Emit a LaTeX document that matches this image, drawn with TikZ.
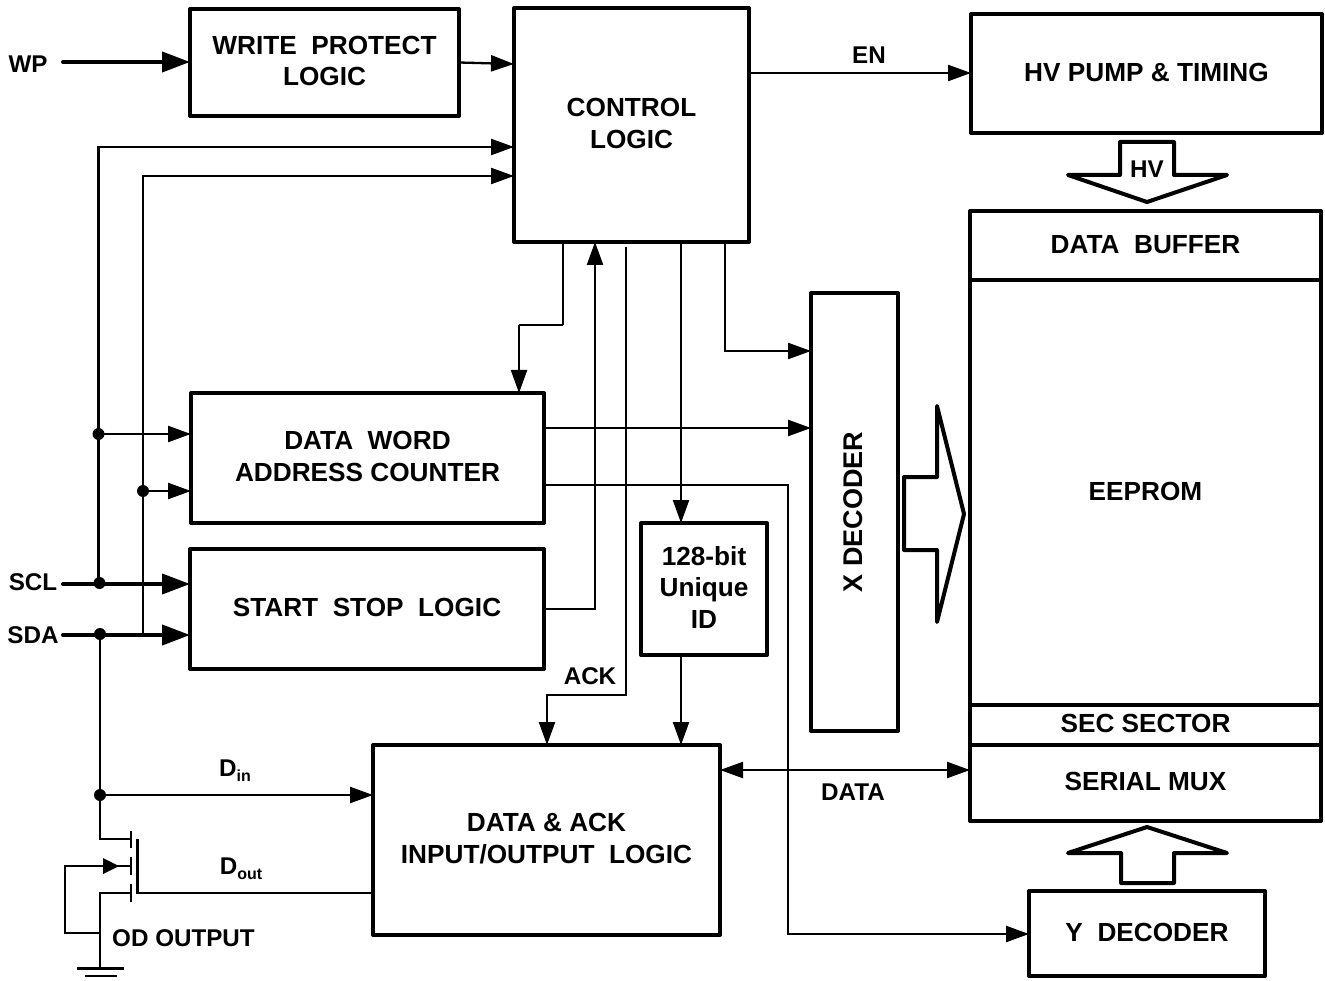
\documentclass[tikz,border=0pt]{standalone}
\usepackage{fontspec}
\setmainfont{Liberation Sans}[BoldFont={Liberation Sans Bold}]
\usetikzlibrary{arrows.meta}
\newcommand{\lbl}{\bfseries\fontsize{26.2}{31.5}\selectfont}
\newcommand{\lbs}{\bfseries\fontsize{24.2}{29}\selectfont}
\newcommand{\sbs}[1]{\raisebox{-5pt}{\fontsize{16}{16}\selectfont #1}}
\newcommand{\blk}[6]{\node[blockbox,minimum width={(#4-#2)*1pt},minimum height={(#5-#3)*1pt}] (#1) at ({(#2+#4)/2},{(#3+#5)/2}) {#6\rule[-3pt]{0pt}{1pt}};}
\tikzset{
  blockbox/.style={draw,line width=4pt,inner sep=0pt,outer sep=0pt,align=center,font=\lbl,line join=round,fill=white},
  txt/.style={inner sep=0pt,font=\lbs,align=center},
  wire/.style={line width=2.3pt,line join=miter},
  wirein/.style={wire,-{Triangle[length=23pt,width=16pt]}},
  wirebi/.style={wire,{Triangle[length=23pt,width=16pt]}-{Triangle[length=23pt,width=16pt]}},
  busin/.style={line width=4pt,line cap=round,-{Triangle[length=28pt,width=20pt]}},
  hollow/.style={draw,line width=4pt,line join=round,fill=white},
  junction/.style={circle,fill=black,inner sep=0pt,minimum size=12pt},
}
\begin{document}
\begin{tikzpicture}[x=1pt,y=-1pt]
\useasboundingbox (0,0) rectangle (1325,981);
% hollow bus arrows
\draw[hollow] (1120,142) -- (1174,142) -- (1174,175) -- (1227,175) -- (1147,202) -- (1068,175) -- (1120,175) -- cycle;
\draw[hollow] (904,477) -- (937,477) -- (937,406) -- (964,514) -- (937,622) -- (937,550) -- (904,550) -- cycle;
\draw[hollow] (1121,883) -- (1174,883) -- (1174,853) -- (1227,853) -- (1147,827) -- (1068,853) -- (1121,853) -- cycle;
% blocks
\blk{wpl}{190}{9}{459}{116}{WRITE\ \ PROTECT\\LOGIC}
\blk{ctrl}{514}{8}{749}{242}{CONTROL\\LOGIC}
\blk{hv}{971}{14}{1322}{133}{HV PUMP \& TIMING}
\blk{buf}{970}{211}{1321}{280}{DATA\ \ BUFFER}
\blk{ee}{970}{280}{1321}{705}{EEPROM}
\blk{sec}{970}{705}{1321}{745}{SEC SECTOR}
\blk{mux}{970}{745}{1321}{821}{SERIAL MUX}
\node[blockbox,rotate=90,minimum width=438pt,minimum height=87pt,font=\bfseries\fontsize{27}{32}\selectfont] (xd) at (854.5,512) {X DECODER\rule[-3pt]{0pt}{1pt}};
\blk{dwa}{191}{393}{544}{523}{DATA\ \ WORD\\ADDRESS COUNTER}
\blk{ssl}{190}{549}{544}{669}{START\ \ STOP\ \ LOGIC}
\blk{uid}{641}{523}{767}{655}{128-bit\\Unique\\ID}
\blk{dio}{373}{745}{720}{935}{DATA \& ACK\\INPUT/OUTPUT\ \ LOGIC}
\blk{yd}{1029}{891}{1265}{976}{Y\ \ DECODER}
% free labels
\node[txt] (lwp) at (28,64) {WP};
\node[txt] (lscl) at (33,582) {SCL};
\node[txt] (lsda) at (33,635) {SDA};
\node[txt] (len) at (869,55) {EN};
\node[txt] (lhv) at (1147,169) {HV};
\node[txt] (lack) at (590,676) {ACK};
\node[txt] (ldata) at (853,792) {DATA};
\node[txt] (ldin) at (235,771) {D\sbs{in}};
\node[txt] (ldout) at (241,869) {D\sbs{out}};
\node[txt] (lod) at (183.5,938) {OD OUTPUT};
% junctions and free ends
\node[junction] (j1) at (98.5,434) {};
\node[junction] (j2) at (143,491) {};
\node[junction] (j3) at (99.5,583) {};
\node[junction] (j4) at (100,634) {};
\node[junction] (j5) at (100,795) {};
\coordinate (wp) at (63,62);
\coordinate (scl) at (63,584);
\coordinate (sda) at (63,635);
\coordinate (ackstart) at (626,247);
% inputs
\draw[busin] (wp) -- (wpl.west |- wp);
\draw[busin] (scl) -- (ssl.west |- scl);
\draw[busin] (sda) -- (ssl.west |- sda);
\draw[wirein] (wpl.east) -- (ctrl.west |- 0,64);
\draw[wirein] (98.5,583) -- (98.5,147) -- (ctrl.west |- 0,147);
\draw[wirein] (j2.center |- sda) -- (143,176) -- (ctrl.west |- 0,176);
\draw[wirein] (j1.center) -- (dwa.west |- j1);
\draw[wirein] (j2.center) -- (dwa.west |- j2);
% control logic outputs
\coordinate (ca) at (563,325);
\coordinate (cb) at (519,325);
\draw[wire] (ctrl.south -| ca) -- (ca);
\draw[line width=1.3pt] (ca) -- (cb);
\draw[wirein] (cb) -- (dwa.north -| cb);
\draw[wirein] (ssl.east |- 0,609) -- (595,609) -- (ctrl.south -| 595,0);
\draw[wirein] (ackstart) -- (626,695) -- (547,695) -- (dio.north -| 547,0);
\draw[wirein] (ctrl.south -| 681,0) -- (uid.north -| 681,0);
\draw[wirein] (ctrl.south -| 725,0) -- (725,351) -- (xd.north |- 0,351);
\draw[wirein] (dwa.east |- 0,428) -- (xd.north |- 0,428);
\draw[wirein] (dwa.east |- 0,485) -- (788,485) -- (788,934) -- (yd.west |- 0,934);
\draw[wirein] (uid.south -| 681,0) -- (dio.north -| 681,0);
\draw[wirebi] (dio.east |- 0,770) -- (mux.west |- 0,770);
\draw[wirein] (ctrl.east |- 0,73) -- (hv.west |- 0,73);
\draw[wirein] (j5.center) -- (dio.west |- j5);
% open drain output
\coordinate (gnd) at (100,968.5);
\draw[wire] (j4.center) -- (j5.center) -- (100,839) -- (131,839);
\draw[wire] (131,831) -- (131,848);
\draw[wire] (131,857) -- (131,875);
\draw[wire] (131,884) -- (131,902);
\draw[wire] (137.5,839) -- (137.5,893) -- (dio.west |- 0,893);
\draw[wire] (131,893) -- (100,893) -- (gnd);
\draw[wire,line join=miter] (131,866) -- (65,866) -- (65,933) -- (100,933);
\fill (103,858) -- (119,866) -- (103,874) -- cycle;
\draw[wire] (77,968.5) -- (124,968.5);
\draw[wire] (85,976) -- (117,976);
\end{tikzpicture}
\end{document}
